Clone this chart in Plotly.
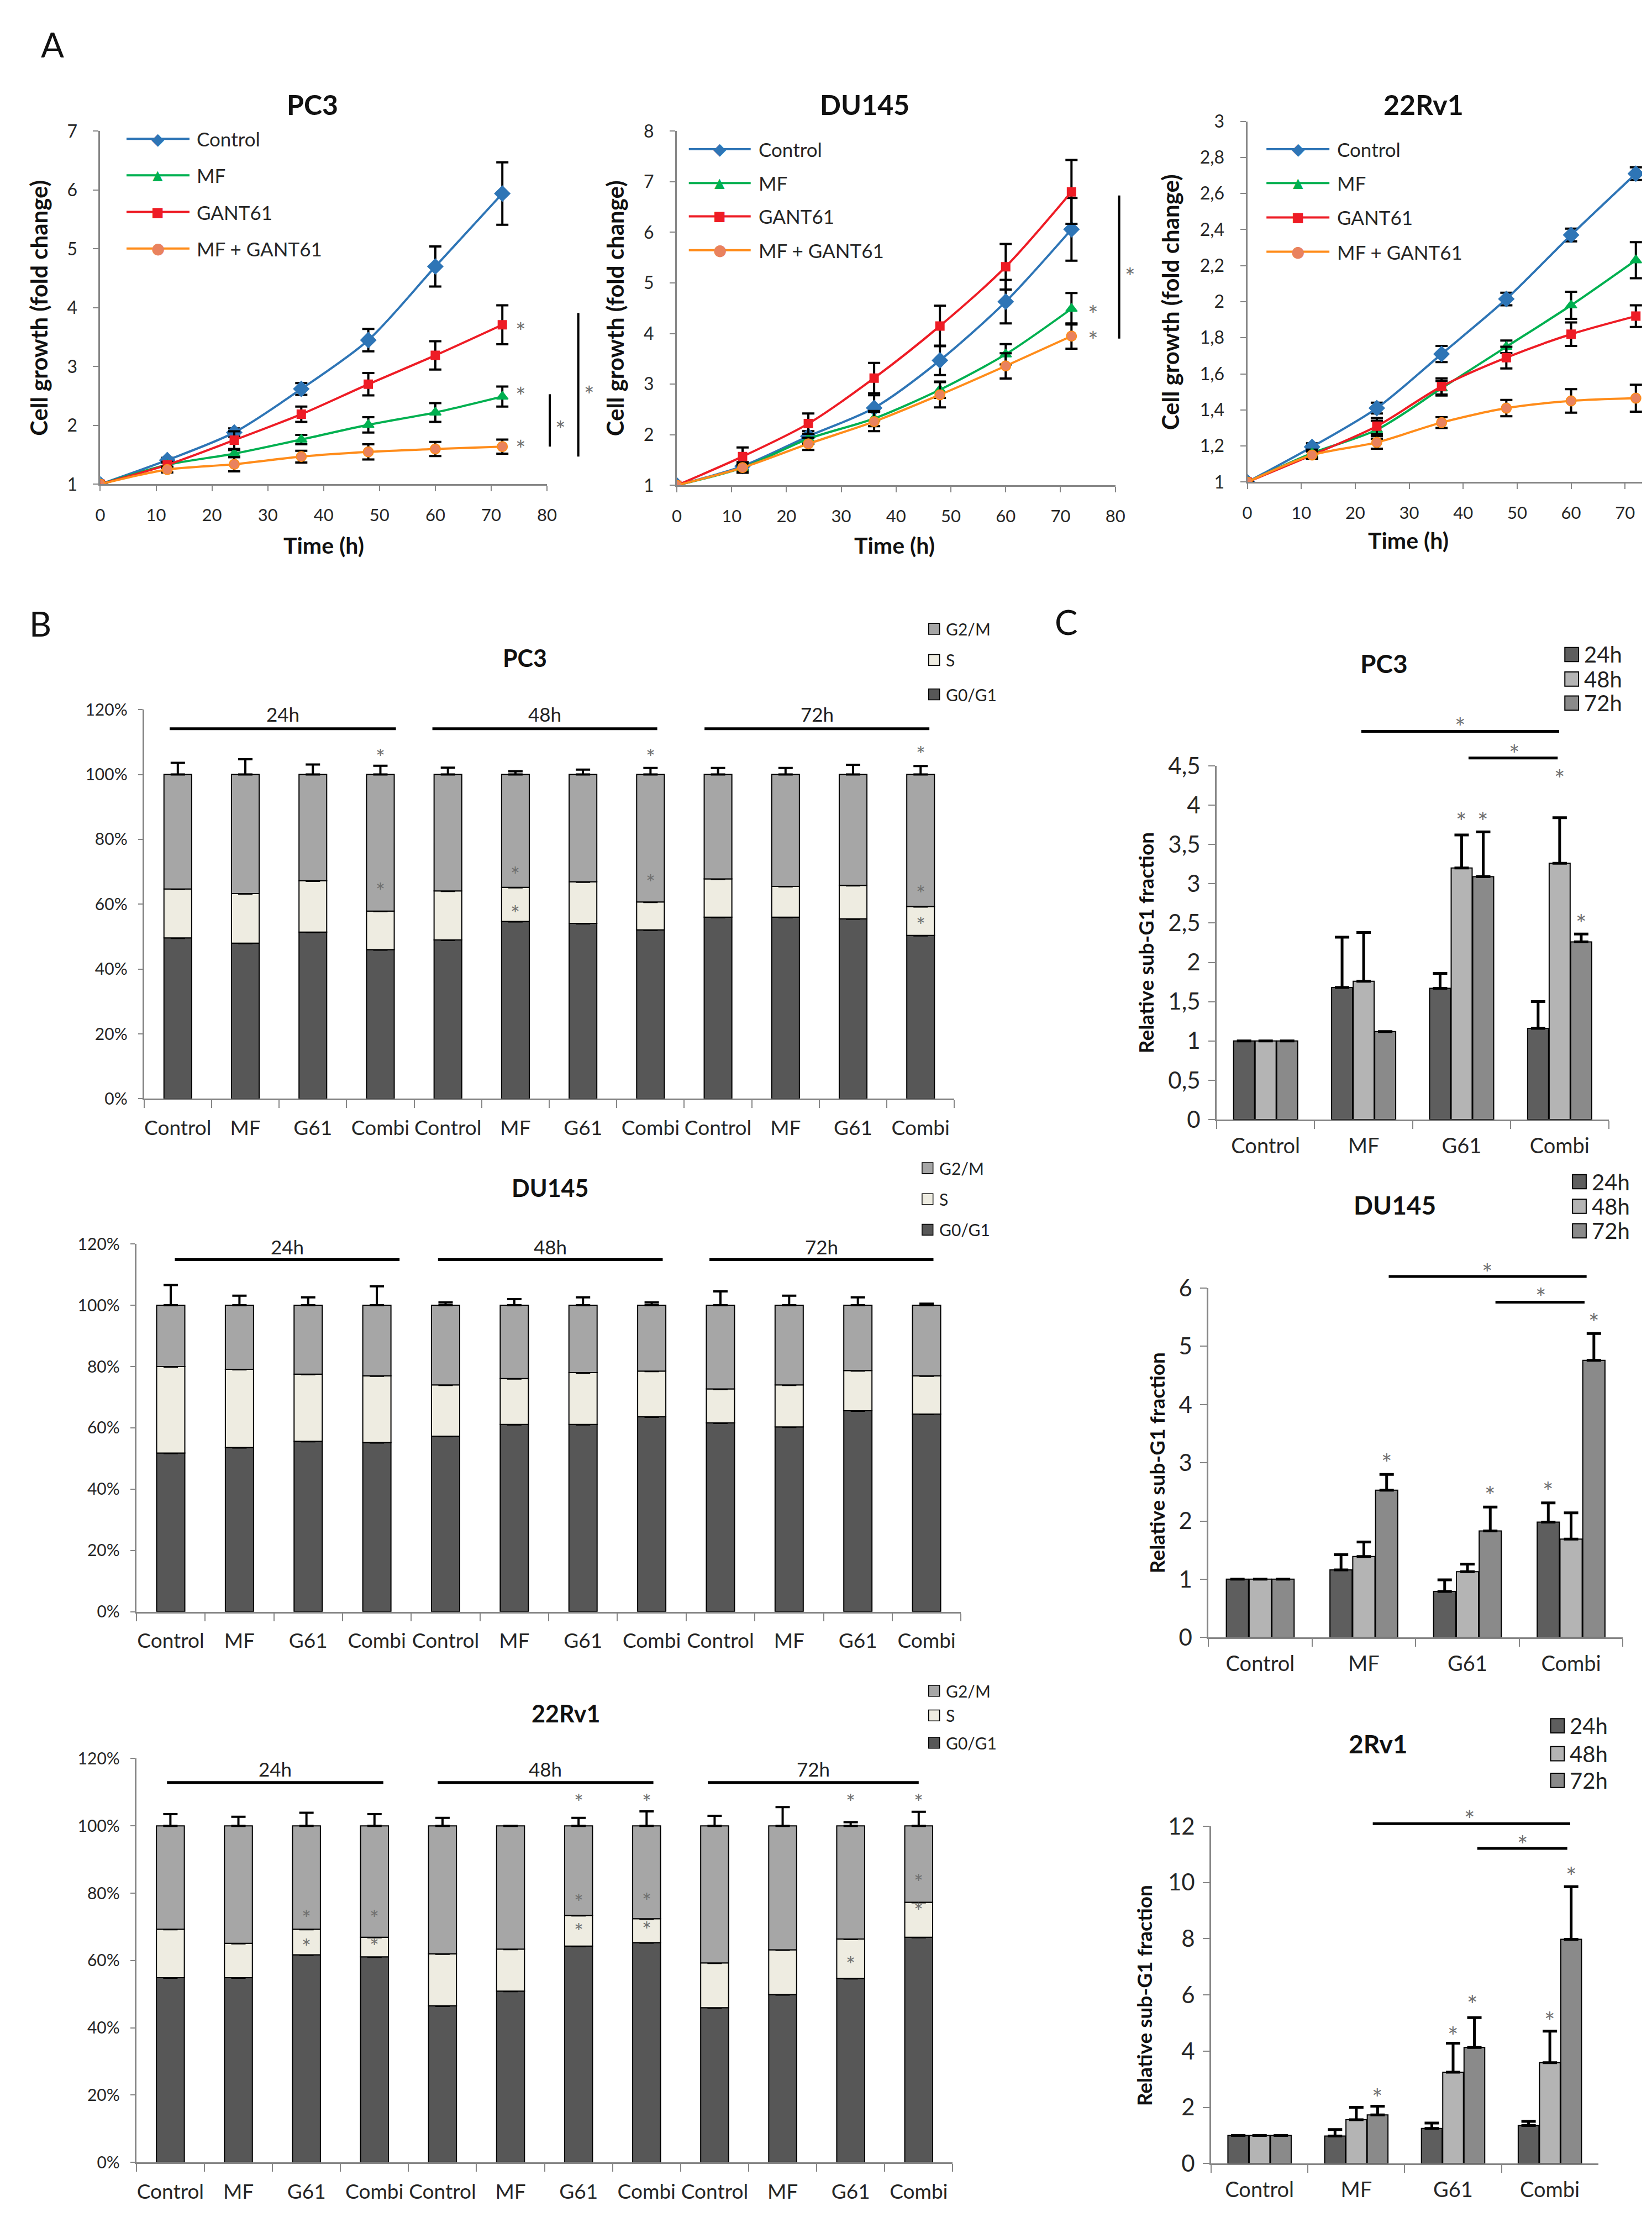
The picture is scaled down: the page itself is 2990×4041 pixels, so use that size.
import plotly.graph_objects as go

# ======================= DATA =======================
# ---- Panel A: cell growth (fold change) ----
time_h = [0, 12, 24, 36, 48, 60, 72]
growth_names = ["Control", "MF", "GANT61", "MF + GANT61"]
a_titles = ["PC3", "DU145", "22Rv1"]
a_xticks = [0, 10, 20, 30, 40, 50, 60, 70, 80]
a_pc3_yticks = [1, 2, 3, 4, 5, 6, 7]
a_du_yticks = [1, 2, 3, 4, 5, 6, 7, 8]
a_rv_yticks = [1.0, 1.2, 1.4, 1.6, 1.8, 2.0, 2.2, 2.4, 2.6, 2.8, 3.0]
a_rv_yticktext = ["1", "1,2", "1,4", "1,6", "1,8", "2", "2,2", "2,4", "2,6", "2,8", "3"]

pc3_control = [1.00, 1.41, 1.88, 2.62, 3.45, 4.70, 5.94]
pc3_control_err = [0.00, 0.04, 0.07, 0.10, 0.19, 0.34, 0.53]
pc3_mf = [1.00, 1.33, 1.52, 1.76, 2.01, 2.22, 2.49]
pc3_mf_err = [0.00, 0.04, 0.06, 0.08, 0.13, 0.16, 0.17]
pc3_gant61 = [1.00, 1.33, 1.75, 2.19, 2.70, 3.19, 3.71]
pc3_gant61_err = [0.00, 0.05, 0.15, 0.13, 0.19, 0.24, 0.33]
pc3_mf_gant61 = [1.00, 1.25, 1.34, 1.47, 1.55, 1.60, 1.64]
pc3_mf_gant61_err = [0.00, 0.05, 0.12, 0.10, 0.13, 0.12, 0.12]

du145_control = [1.00, 1.38, 1.97, 2.53, 3.47, 4.63, 6.06]
du145_control_err = [0.00, 0.08, 0.10, 0.25, 0.29, 0.43, 0.62]
du145_mf = [1.00, 1.35, 1.92, 2.32, 2.89, 3.59, 4.49]
du145_mf_err = [0.00, 0.08, 0.10, 0.15, 0.16, 0.20, 0.31]
du145_gant61 = [1.00, 1.57, 2.22, 3.12, 4.15, 5.32, 6.80]
du145_gant61_err = [0.00, 0.18, 0.20, 0.30, 0.40, 0.45, 0.63]
du145_mf_gant61 = [1.00, 1.35, 1.82, 2.26, 2.79, 3.36, 3.95]
du145_mf_gant61_err = [0.00, 0.10, 0.12, 0.19, 0.25, 0.25, 0.25]

rv1_control = [1.00, 1.195, 1.41, 1.71, 2.015, 2.37, 2.71]
rv1_control_err = [0.00, 0.02, 0.03, 0.045, 0.035, 0.035, 0.035]
rv1_mf = [1.00, 1.16, 1.29, 1.52, 1.75, 1.98, 2.23]
rv1_mf_err = [0.00, 0.02, 0.05, 0.04, 0.035, 0.075, 0.10]
rv1_gant61 = [1.00, 1.15, 1.31, 1.53, 1.69, 1.82, 1.92]
rv1_gant61_err = [0.00, 0.02, 0.045, 0.045, 0.06, 0.065, 0.06]
rv1_mf_gant61 = [1.00, 1.15, 1.22, 1.33, 1.41, 1.45, 1.465]
rv1_mf_gant61_err = [0.00, 0.02, 0.035, 0.03, 0.045, 0.065, 0.075]

# significance marks (x, y in data units)
pc3_a_stars = [(75.3, 3.70), (75.3, 2.60), (75.3, 1.70)]
pc3_a_brackets = [(80.5, 2.53, 1.64), (85.6, 3.91, 1.47)]      # x, y_top, y_bottom
pc3_a_bracket_stars = [(82.4, 2.03), (87.6, 2.62)]
du145_a_stars = [(75.9, 4.50), (75.9, 3.99)]
du145_a_brackets = [(80.7, 6.73, 3.90)]
du145_a_bracket_stars = [(82.7, 5.24)]

# ---- Panel B: cell-cycle distribution (%) ----
b_titles = ["PC3", "DU145", "22Rv1"]
b_treatments = ["Control", "MF", "G61", "Combi"]
b_times = ["24h", "48h", "72h"]
b_x_labels = b_treatments * 3
phase_names = ["G0/G1", "S", "G2/M"]
b_yticks = [0, 20, 40, 60, 80, 100, 120]
b_yticktext = ["0%", "20%", "40%", "60%", "80%", "100%", "120%"]

pc3_g0g1 = [49.6, 48.0, 51.4, 46.0, 49.0, 54.7, 54.1, 52.1, 56.0, 56.0, 55.5, 50.4]
pc3_s = [15.1, 15.3, 15.8, 11.9, 15.1, 10.5, 12.8, 8.6, 11.8, 9.5, 10.3, 8.9]
pc3_g2m = [35.3, 36.7, 32.8, 42.1, 35.9, 34.8, 33.1, 39.3, 32.2, 34.5, 34.2, 40.7]
pc3_g0g1_err = [5.5, 4.0, 4.7, 3.3, 3.1, 0.8, 2.7, 3.4, 3.1, 1.9, 2.8, 2.2]
pc3_s_err = [1.9, 1.4, 3.0, 2.2, 0.6, 1.5, 1.4, 1.8, 1.7, 0.0, 0.9, 0.4]
pc3_g2m_err = [3.6, 4.7, 3.1, 2.7, 2.1, 1.0, 1.5, 2.0, 2.0, 2.0, 3.0, 2.6]

du145_g0g1 = [51.8, 53.6, 55.6, 55.2, 57.3, 61.1, 61.1, 63.6, 61.6, 60.3, 65.6, 64.5]
du145_s = [28.2, 25.5, 21.9, 21.8, 16.7, 15.0, 16.9, 14.9, 11.1, 13.7, 13.1, 12.5]
du145_g2m = [20.0, 20.9, 22.5, 23.0, 26.0, 23.9, 22.0, 21.5, 27.3, 26.0, 21.3, 23.0]
du145_g0g1_err = [10.2, 6.5, 5.5, 11.3, 0.9, 3.9, 0.9, 1.9, 4.9, 4.0, 1.9, 2.7]
du145_s_err = [5.1, 5.4, 3.1, 4.9, 2.2, 1.9, 2.0, 2.0, 1.3, 0.0, 0.4, 2.0]
du145_g2m_err = [6.6, 3.1, 2.6, 6.2, 0.9, 2.0, 2.6, 0.9, 4.5, 3.1, 2.6, 0.5]

rv1_g0g1 = [54.9, 54.9, 61.7, 61.1, 46.5, 50.9, 64.3, 65.3, 46.0, 49.9, 54.7, 66.9]
rv1_s = [14.4, 10.2, 7.6, 5.8, 15.5, 12.5, 9.1, 7.1, 13.3, 13.3, 11.7, 10.4]
rv1_g2m = [30.7, 34.9, 30.7, 33.1, 38.0, 36.6, 26.6, 27.6, 40.7, 36.8, 33.6, 22.7]
rv1_g0g1_err = [4.4, 3.9, 4.5, 4.0, 1.6, 1.0, 3.1, 2.7, 2.1, 3.4, 1.8, 7.8]
rv1_s_err = [1.8, 0.0, 0.9, 1.4, 1.8, 1.2, 2.1, 2.3, 1.9, 1.3, 2.1, 4.2]
rv1_g2m_err = [3.5, 2.7, 3.9, 3.5, 2.4, 0.0, 2.4, 4.3, 3.0, 5.6, 1.1, 4.2]

pc3_b_groups = [(-0.12, 3.23), (3.77, 7.10), (7.80, 11.13)]
du145_b_groups = [(0.06, 3.33), (3.89, 7.16), (7.84, 11.10)]
rv1_b_groups = [(-0.05, 3.13), (3.93, 7.10), (7.90, 11.00)]
b_group_line_y = [114.1, 114.9, 112.9]
b_group_label_y = [118.7, 119.2, 116.9]
pc3_b_stars = [(3, 65.5), (3, 106.8), (5, 58.5), (5, 70.5), (7, 68.0), (7, 106.8),
               (11, 55.0), (11, 64.6), (11, 107.6)]
du145_b_stars = []
rv1_b_stars = [(2, 74.0), (2, 65.4), (3, 74.0), (3, 65.5), (6, 78.7), (6, 70.0), (6, 108.4),
               (7, 79.0), (7, 70.5), (7, 108.4), (10, 60.1), (10, 108.4), (11, 84.6),
               (11, 76.0), (11, 108.4)]

# ---- Panel C: relative sub-G1 fraction ----
c_titles = ["PC3", "DU145", "2Rv1"]
c_categories = ["Control", "MF", "G61", "Combi"]
c_times = ["24h", "48h", "72h"]
c_pc3_yticks = [0, 0.5, 1, 1.5, 2, 2.5, 3, 3.5, 4, 4.5]
c_pc3_yticktext = ["0", "0,5", "1", "1,5", "2", "2,5", "3", "3,5", "4", "4,5"]
c_du_yticks = [0, 1, 2, 3, 4, 5, 6]
c_rv_yticks = [0, 2, 4, 6, 8, 10, 12]

pc3_sub_24h = [1.00, 1.68, 1.67, 1.16]
pc3_sub_48h = [1.00, 1.76, 3.20, 3.26]
pc3_sub_72h = [1.00, 1.12, 3.09, 2.26]
pc3_sub_24h_err = [0.00, 0.64, 0.19, 0.34]
pc3_sub_48h_err = [0.00, 0.62, 0.42, 0.58]
pc3_sub_72h_err = [0.00, 0.00, 0.57, 0.10]

du145_sub_24h = [1.00, 1.16, 0.79, 1.98]
du145_sub_48h = [1.00, 1.39, 1.13, 1.69]
du145_sub_72h = [1.00, 2.53, 1.83, 4.76]
du145_sub_24h_err = [0.00, 0.26, 0.20, 0.33]
du145_sub_48h_err = [0.00, 0.25, 0.13, 0.45]
du145_sub_72h_err = [0.00, 0.27, 0.41, 0.46]

rv1_sub_24h = [1.00, 0.98, 1.25, 1.35]
rv1_sub_48h = [1.00, 1.56, 3.25, 3.59]
rv1_sub_72h = [1.00, 1.73, 4.13, 7.98]
rv1_sub_24h_err = [0.00, 0.23, 0.19, 0.15]
rv1_sub_48h_err = [0.00, 0.44, 1.03, 1.12]
rv1_sub_72h_err = [0.00, 0.31, 1.06, 1.87]

pc3_c_stars = [(2.00, 3.87), (2.22, 3.87), (3.00, 4.41), (3.22, 2.57)]
du145_c_stars = [(1.22, 3.10), (2.22, 2.54), (2.78, 2.62), (3.22, 5.51)]
rv1_c_stars = [(1.22, 2.56), (2.00, 4.75), (2.20, 5.88), (3.00, 5.28), (3.22, 10.44)]
pc3_c_brackets = [(0.976, 2.995, 4.94), (2.07, 2.98, 4.60)]      # x0, x1, y
pc3_c_bracket_stars = [(1.985, 5.07), (2.54, 4.73)]
du145_c_brackets = [(1.24, 3.15, 6.20), (2.27, 3.13, 5.76)]
du145_c_bracket_stars = [(2.19, 6.37), (2.71, 5.95)]
rv1_c_brackets = [(1.17, 3.21, 12.09), (2.25, 3.18, 11.21)]
rv1_c_bracket_stars = [(2.17, 12.46), (2.72, 11.56)]

# ======================= STYLE / LAYOUT =======================
W, H = 2990, 4041
FONT = "Lato, 'Open Sans', sans-serif"
TXT = "#262626"
AXC = "#868686"
STARC = "#707070"
STAR_SIZE = 46
growth_colors = ["#2E75B6", "#00B050", "#EE1C25", "#FF8C1A"]
growth_fill = ["#2E75B6", "#00B050", "#EE1C25", "#E9825E"]
growth_symbols = ["diamond", "triangle-up", "square", "circle"]
growth_sizes = [21, 18, 15, 18]
growth_glyphs = ["\u25C6", "\u25B2", "\u25A0", "\u25CF"]
growth_glyph_sizes = [30, 24, 24, 28]
phase_colors = ["#575757", "#EEECE1", "#A6A6A6"]
subg1_colors = ["#5E5E5E", "#B4B4B4", "#8A8A8A"]
subg1_offsets = [-0.327, -0.107, 0.113]

# subplot geometry in pixels: x (left, right), y (top, bottom), data ranges
GEOM = {
    1: dict(x=(174, 990), y=(214, 861), xr=(0, 80), yr=(1, 7)),
    2: dict(x=(1227, 2028), y=(214, 863), xr=(0, 80), yr=(1, 8)),
    3: dict(x=(2269, 2990), y=(196, 857), xr=(0, 73.15), yr=(1, 3)),
    4: dict(x=(254, 1734), y=(1274, 1987), xr=(-0.5, 11.5), yr=(0, 120)),
    5: dict(x=(240, 1746), y=(2253, 2927), xr=(-0.5, 11.5), yr=(0, 120)),
    6: dict(x=(240, 1731), y=(3196, 3936), xr=(-0.5, 11.5), yr=(0, 120)),
    7: dict(x=(2213, 2929), y=(1377, 2025), xr=(-0.5, 3.5), yr=(0, 4.5)),
    8: dict(x=(2198, 2955), y=(2334, 2974), xr=(-0.5, 3.5), yr=(0, 6)),
    9: dict(x=(2203, 2910), y=(3320, 3938), xr=(-0.5, 3.5), yr=(0, 12)),
}


def aid(n, letter):
    return letter if n == 1 else f"{letter}{n}"


def akey(n, letter):
    return f"{letter}axis" if n == 1 else f"{letter}axis{n}"


def pp(px, py):
    return px / W, 1 - py / H


def dp(n, xv, yv):
    g = GEOM[n]
    (x0, x1), (y0, y1) = g["x"], g["y"]
    xr, yr = g["xr"], g["yr"]
    px = x0 + (xv - xr[0]) / (xr[1] - xr[0]) * (x1 - x0)
    py = y1 - (yv - yr[0]) / (yr[1] - yr[0]) * (y1 - y0)
    return pp(px, py)


fig = go.Figure()
annotations = []
shapes = []


def text_px(px, py, text, size, bold=False, color=TXT, xanchor="center", angle=0,
            family=FONT, yshift=0):
    x, y = pp(px, py)
    annotations.append(dict(x=x, y=y, xref="paper", yref="paper",
                            text=f"<b>{text}</b>" if bold else text, showarrow=False,
                            font=dict(family=family, size=size, color=color),
                            xanchor=xanchor, yanchor="middle", textangle=angle,
                            yshift=yshift))


def star_paper(n, xv, yv, size=STAR_SIZE):
    x, y = dp(n, xv, yv)
    annotations.append(dict(x=x, y=y, xref="paper", yref="paper", text="*", showarrow=False,
                            font=dict(family=FONT, size=size, color=STARC),
                            xanchor="center", yanchor="middle", yshift=-int(size * 0.24)))


def star_data(n, xv, yv, size=STAR_SIZE):
    annotations.append(dict(x=xv, y=yv, xref=aid(n, "x"), yref=aid(n, "y"), text="*",
                            showarrow=False, font=dict(family=FONT, size=size, color=STARC),
                            xanchor="center", yanchor="middle", yshift=-int(size * 0.24)))


def line_paper(n, xa, ya, xb, yb, width=4):
    x0, y0 = dp(n, xa, ya)
    x1, y1 = dp(n, xb, yb)
    shapes.append(dict(type="line", xref="paper", yref="paper", x0=x0, y0=y0, x1=x1, y1=y1,
                       line=dict(color="black", width=width)))


def axis_base(size, ticklen=10):
    return dict(showline=True, linecolor=AXC, linewidth=3, showgrid=False, zeroline=False,
                ticks="outside", tickcolor=AXC, tickwidth=2, ticklen=ticklen,
                tickfont=dict(family=FONT, size=size, color=TXT), fixedrange=True)


layout_axes = {}


def set_axes(n, xextra, yextra, xsize, ysize, xticklen=10, yticklen=10):
    g = GEOM[n]
    xa = axis_base(xsize, xticklen)
    xa.update(domain=[g["x"][0] / W, g["x"][1] / W], range=list(g["xr"]), anchor=aid(n, "y"))
    xa.update(xextra)
    ya = axis_base(ysize, yticklen)
    ya.update(domain=[1 - g["y"][1] / H, 1 - g["y"][0] / H], range=list(g["yr"]),
              anchor=aid(n, "x"))
    ya.update(yextra)
    layout_axes[akey(n, "x")] = xa
    layout_axes[akey(n, "y")] = ya


# ---------------- Panel A ----------------
A_SERIES = {
    1: ([pc3_control, pc3_mf, pc3_gant61, pc3_mf_gant61],
        [pc3_control_err, pc3_mf_err, pc3_gant61_err, pc3_mf_gant61_err]),
    2: ([du145_control, du145_mf, du145_gant61, du145_mf_gant61],
        [du145_control_err, du145_mf_err, du145_gant61_err, du145_mf_gant61_err]),
    3: ([rv1_control, rv1_mf, rv1_gant61, rv1_mf_gant61],
        [rv1_control_err, rv1_mf_err, rv1_gant61_err, rv1_mf_gant61_err]),
}
for n, (vals, errs) in A_SERIES.items():
    for name, ys, es, col, fill, sym, sz in zip(growth_names, vals, errs, growth_colors,
                                                growth_fill, growth_symbols, growth_sizes):
        fig.add_trace(go.Scatter(
            x=time_h, y=ys, name=name, mode="lines+markers",
            line=dict(color=col, width=4, shape="spline", smoothing=0.8),
            marker=dict(symbol=sym, size=sz, color=fill, line=dict(color=col, width=2)),
            error_y=dict(type="data", array=es, symmetric=True, color="black",
                         thickness=4, width=11),
            xaxis=aid(n, "x"), yaxis=aid(n, "y"), showlegend=False))

a_xticks_rv = [t for t in a_xticks if t <= 70]
set_axes(1, dict(tickvals=a_xticks, ticklabelstandoff=16),
         dict(tickvals=a_pc3_yticks, ticklabelstandoff=22), 31, 32)
set_axes(2, dict(tickvals=a_xticks, ticklabelstandoff=16),
         dict(tickvals=a_du_yticks, ticklabelstandoff=22), 31, 32)
set_axes(3, dict(tickvals=a_xticks_rv, ticklabelstandoff=16),
         dict(tickvals=a_rv_yticks, ticktext=a_rv_yticktext, ticklabelstandoff=22), 31, 32)

A_TITLE_POS = [(562, 165), (1570, 165), (2591, 165)]
A_XTITLE_POS = [(582, 973), (1625, 973), (2563, 963)]
A_YTITLE_POS = [(62, 538), (1114, 538), (2129, 527)]
A_LEG = [(222, 337, 348, [228, 295, 362, 429]),
         (1249, 1362, 1374, [247, 309, 370, 432]),
         (2304, 2419, 2431, [247, 309, 372, 435])]
for title, tp, xp, yp, leg in zip(a_titles, A_TITLE_POS, A_XTITLE_POS, A_YTITLE_POS, A_LEG):
    text_px(tp[0], tp[1], title, 50, bold=True, color="#111111")
    text_px(xp[0], xp[1], "Time (h)", 41, bold=True, color="#111111")
    text_px(yp[0], yp[1], "Cell growth (fold change)", 42, bold=True, color="#111111",
            angle=-90)
    x0, x1, tx, rows = leg
    for name, col, fill, gl, gs, ry in zip(growth_names, growth_colors, growth_fill,
                                           growth_glyphs, growth_glyph_sizes, rows):
        shapes.append(dict(type="line", xref="paper", yref="paper", x0=x0 / W, x1=x1 / W,
                           y0=1 - ry / H, y1=1 - ry / H, line=dict(color=col, width=4)))
        text_px((x0 + x1) / 2, ry, gl, gs, color=fill, family="DejaVu Sans")
        text_px(tx, ry, name, 35, xanchor="left")

for n, stars, brackets, bstars in [(1, pc3_a_stars, pc3_a_brackets, pc3_a_bracket_stars),
                                   (2, du145_a_stars, du145_a_brackets, du145_a_bracket_stars)]:
    for xv, yv in stars:
        star_paper(n, xv, yv, size=44)
    for xv, yt, yb in brackets:
        line_paper(n, xv, yt, xv, yb, width=4)
    for xv, yv in bstars:
        star_paper(n, xv, yv, size=44)

# ---------------- Panel B ----------------
bar_index = list(range(len(b_x_labels)))
B_SERIES = {
    4: ([pc3_g0g1, pc3_s, pc3_g2m], [pc3_g0g1_err, pc3_s_err, pc3_g2m_err]),
    5: ([du145_g0g1, du145_s, du145_g2m], [du145_g0g1_err, du145_s_err, du145_g2m_err]),
    6: ([rv1_g0g1, rv1_s, rv1_g2m], [rv1_g0g1_err, rv1_s_err, rv1_g2m_err]),
}
for n, (vals, errs) in B_SERIES.items():
    g0, s, g2 = vals
    bases = [None, g0, [a + b for a, b in zip(g0, s)]]
    for name, v, base, e, col in zip(phase_names, vals, bases, errs, phase_colors):
        fig.add_trace(go.Bar(
            x=bar_index, y=v, base=base, name=name, width=0.41,
            marker=dict(color=col, line=dict(color="black", width=2)),
            error_y=dict(type="data", symmetric=False, array=e, arrayminus=[0] * len(e),
                         color="black", thickness=4, width=13),
            xaxis=aid(n, "x"), yaxis=aid(n, "y"), showlegend=False))
    set_axes(n,
             dict(tickvals=bar_index, ticktext=b_x_labels, ticks="", ticklabelstandoff=18,
                  minor=dict(tickvals=[i - 0.5 for i in range(len(bar_index) + 1)],
                             ticks="outside", ticklen=14, tickcolor=AXC, tickwidth=2)),
             dict(tickvals=b_yticks, ticktext=b_yticktext, ticklabelstandoff=13),
             37, 30, yticklen=8)

B_TITLE_POS = [(950, 1179), (995, 2150), (1024, 3113)]
B_LEG = [(1687, 1716, [1126, 1183, 1246]), (1675, 1704, [2114, 2171, 2227]),
         (1687, 1716, [3072, 3117, 3167])]
for idx, (n, title, tp, leg, groups, stars) in enumerate(zip(
        [4, 5, 6], b_titles, B_TITLE_POS, B_LEG,
        [pc3_b_groups, du145_b_groups, rv1_b_groups],
        [pc3_b_stars, du145_b_stars, rv1_b_stars])):
    text_px(tp[0], tp[1], title, 43, bold=True, color="#111111")
    sx, tx, rows = leg
    for name, col, ry in zip(phase_names[::-1], phase_colors[::-1], rows):
        shapes.append(dict(type="rect", xref="paper", yref="paper", x0=sx / W,
                           x1=(sx + 20) / W, y0=1 - (ry + 10) / H, y1=1 - (ry - 10) / H,
                           fillcolor=col, line=dict(color="black", width=1.5)))
        text_px(tx, ry, name, 30, xanchor="left", color="#222222")
    for label, (g0x, g1x) in zip(b_times, groups):
        shapes.append(dict(type="line", xref=aid(n, "x"), yref=aid(n, "y"), x0=g0x, x1=g1x,
                           y0=b_group_line_y[idx], y1=b_group_line_y[idx],
                           line=dict(color="black", width=5)))
        annotations.append(dict(x=(g0x + g1x) / 2, y=b_group_label_y[idx], xref=aid(n, "x"),
                                yref=aid(n, "y"), text=label, showarrow=False,
                                font=dict(family=FONT, size=35, color="#222222"),
                                xanchor="center", yanchor="middle"))
    for xv, yv in stars:
        star_data(n, xv, yv, size=40)

# ---------------- Panel C ----------------
C_SERIES = {
    7: ([pc3_sub_24h, pc3_sub_48h, pc3_sub_72h],
        [pc3_sub_24h_err, pc3_sub_48h_err, pc3_sub_72h_err]),
    8: ([du145_sub_24h, du145_sub_48h, du145_sub_72h],
        [du145_sub_24h_err, du145_sub_48h_err, du145_sub_72h_err]),
    9: ([rv1_sub_24h, rv1_sub_48h, rv1_sub_72h],
        [rv1_sub_24h_err, rv1_sub_48h_err, rv1_sub_72h_err]),
}
C_YTICKS = {7: (c_pc3_yticks, c_pc3_yticktext),
            8: (c_du_yticks, [str(v) for v in c_du_yticks]),
            9: (c_rv_yticks, [str(v) for v in c_rv_yticks])}
for n, (vals, errs) in C_SERIES.items():
    for name, v, e, col, off in zip(c_times, vals, errs, subg1_colors, subg1_offsets):
        fig.add_trace(go.Bar(
            x=c_categories, y=v, name=name, width=0.214, offset=off,
            marker=dict(color=col, line=dict(color="black", width=2)),
            error_y=dict(type="data", symmetric=False, array=e, arrayminus=[0] * len(e),
                         color="black", thickness=5, width=13),
            xaxis=aid(n, "x"), yaxis=aid(n, "y"), showlegend=False))
    tv, tt = C_YTICKS[n]
    set_axes(n,
             dict(type="category", categoryorder="array", categoryarray=c_categories,
                  tickson="boundaries", ticklabelstandoff=12),
             dict(tickvals=tv, ticktext=tt, ticklabelstandoff=6),
             38, 42, xticklen=14, yticklen=12)

C_TITLE_POS = [(2519, 1189), (2538, 2181), (2508, 3169)]
C_YTITLE_POS = [(2084, 1701), (2103, 2654), (2080, 3630)]
C_LEG = [(2849, 2882, [1173, 1218, 1262]), (2863, 2896, [2139, 2184, 2229]),
         (2823, 2856, [3136, 3187, 3236])]
for n, title, tp, yp, leg, stars, brackets, bstars in zip(
        [7, 8, 9], c_titles, C_TITLE_POS, C_YTITLE_POS, C_LEG,
        [pc3_c_stars, du145_c_stars, rv1_c_stars],
        [pc3_c_brackets, du145_c_brackets, rv1_c_brackets],
        [pc3_c_bracket_stars, du145_c_bracket_stars, rv1_c_bracket_stars]):
    text_px(tp[0], tp[1], title, 46, bold=True, color="#111111")
    text_px(yp[0], yp[1], "Relative sub-G1 fraction", 37, bold=True, color="#111111",
            angle=-90)
    sx, tx, rows = leg
    for name, col, ry in zip(c_times, subg1_colors, rows):
        shapes.append(dict(type="rect", xref="paper", yref="paper", x0=sx / W,
                           x1=(sx + 25) / W, y0=1 - (ry + 13) / H, y1=1 - (ry - 13) / H,
                           fillcolor=col, line=dict(color="black", width=2)))
        text_px(tx, ry, name, 40, xanchor="left", color="#222222")
    for xv, yv in stars:
        star_data(n, xv, yv)
    for xa, xb, yv in brackets:
        line_paper(n, xa, yv, xb, yv, width=5)
    for xv, yv in bstars:
        star_paper(n, xv, yv)

# panel letters
text_px(87, 55, "A", 62, color="#111111")
text_px(65, 1116, "B", 62, color="#111111")
text_px(1938, 1113, "C", 62, color="#111111")

fig.update_layout(
    width=W, height=H, margin=dict(l=0, r=0, t=0, b=0),
    paper_bgcolor="white", plot_bgcolor="white",
    barmode="overlay", showlegend=False,
    font=dict(family=FONT, color=TXT),
    annotations=annotations, shapes=shapes,
    **layout_axes,
)

fig.write_html("out.html",
               config={"displayModeBar": False},
               post_script="document.body.style.margin='0';"
                           "document.body.style.overflow='hidden';")
